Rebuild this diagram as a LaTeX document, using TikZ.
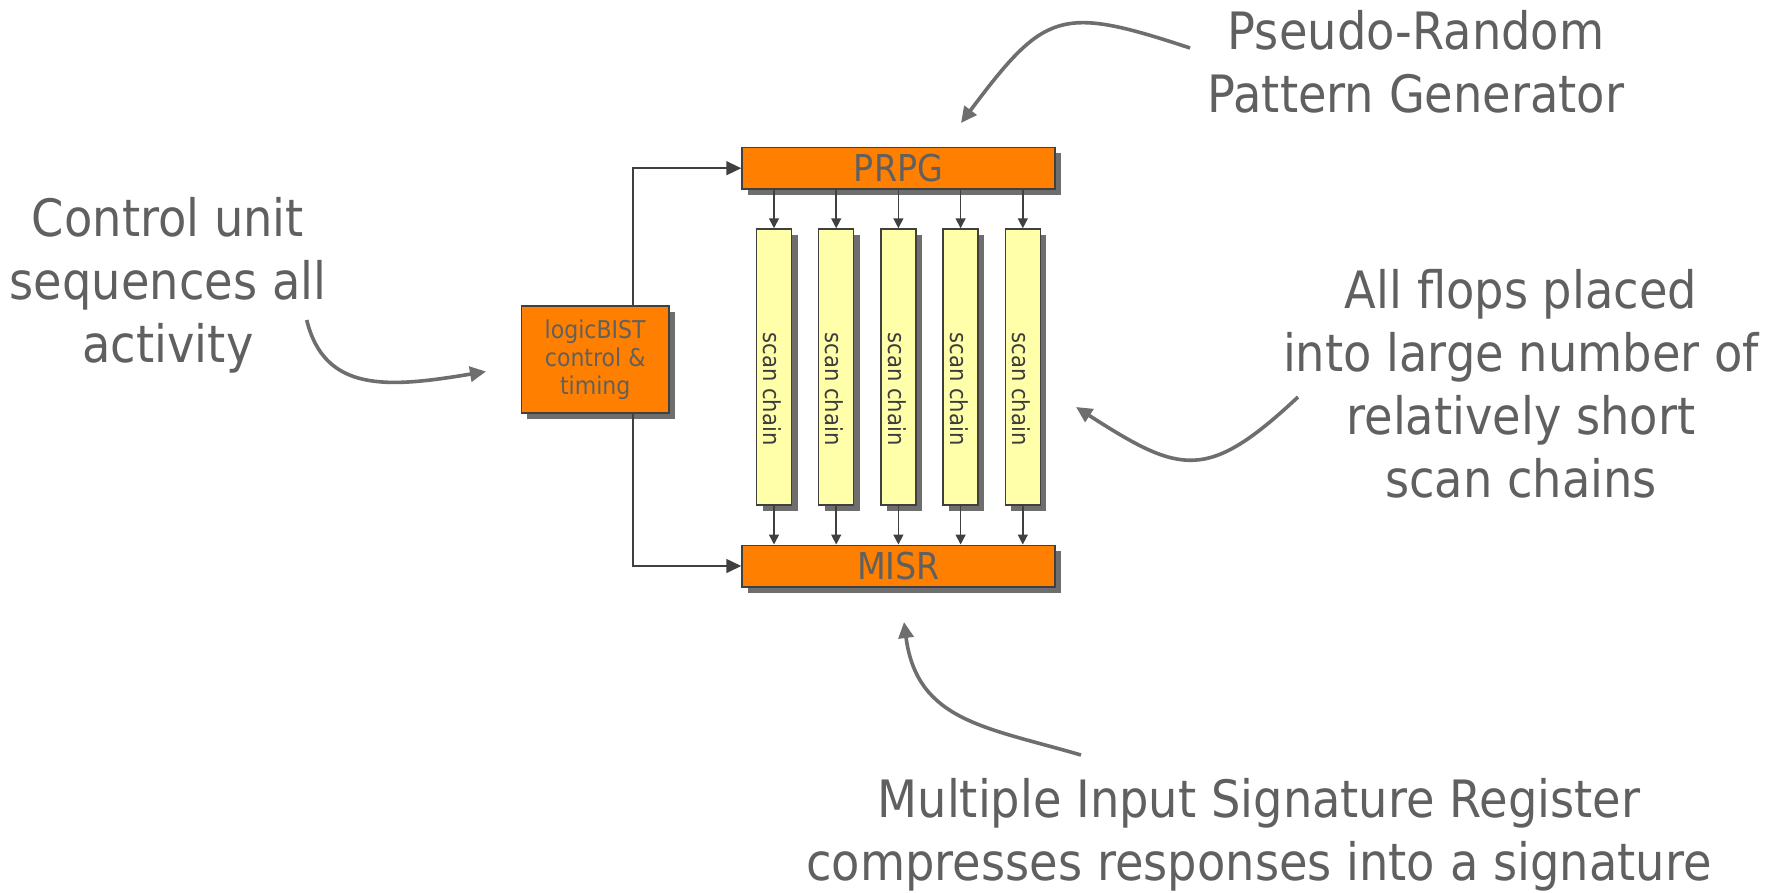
\documentclass[tikz,border=0pt]{standalone}
\usepackage{fontspec}
\setmainfont{DejaVu Sans}[FakeStretch=0.9]
\usetikzlibrary{arrows.meta,shadows,calc}

\definecolor{boxorange}{HTML}{FF7F00}
\definecolor{chainyellow}{HTML}{FFFFAA}
\definecolor{shadowgray}{HTML}{6E6E6E}
\definecolor{edgegray}{HTML}{404040}
\definecolor{textgray}{HTML}{606060}
\definecolor{chaingray}{HTML}{3C3C3C}
\definecolor{calloutgray}{HTML}{6E6E6E}

\begin{document}
\begin{tikzpicture}[x=1pt,y=-1pt,
  block/.style={draw=edgegray, line width=1.5pt, inner sep=0pt, text=textgray,
    drop shadow={shadow xshift=6pt, shadow yshift=-6pt, fill=shadowgray, opacity=1}},
  register/.style={block, fill=boxorange, minimum width=313pt, minimum height=41.5pt,
    font=\fontsize{37}{44}\selectfont},
  ctlbox/.style={block, fill=boxorange, minimum width=147.5pt, minimum height=107pt,
    align=center, font=\fontsize{24.5}{28}\selectfont},
  chainbox/.style={block, fill=chainyellow, minimum width=35pt, minimum height=276pt},
  chaintext/.style={text=chaingray, inner sep=0pt, rotate=-90, font=\fontsize{23.5}{27}\selectfont},
  conn/.style={draw=edgegray, line width=1.5pt, -{Triangle[length=10pt,width=10pt]}},
  feed/.style={draw=edgegray, line width=1.5pt, -{Triangle[length=15pt,width=14pt]}},
  callout/.style={draw=calloutgray, line width=3.6pt, -{Triangle[length=16pt,width=15pt]}},
  note/.style={text=textgray, align=center, inner sep=0pt, font=\fontsize{51.5}{63}\selectfont}
]
\fill[white] (0,0) rectangle (1779,892);
\useasboundingbox (0,0) rectangle (1779,892);

% registers, controller and scan chains
\node[register] (prpg) at (898.5,168.2) {PRPG};
\node[register] (misr) at (898.5,566) {MISR};
\node[ctlbox] (ctl) at (595.2,359.5) {logicBIST\\control \&\\timing};
\foreach \i/\x in {1/774,2/836.2,3/898.4,4/960.6,5/1022.8} {
  \node[chainbox] (c\i) at (\x,367) {};
  \node[chaintext] (t\i) at ($(c\i.center)+(-1.5,22)$) {scan chain};
  \draw[conn] (c\i.north |- prpg.south) -- (c\i.north);
  \draw[conn] (c\i.south) -- (c\i.south |- misr.north);
}
\draw[feed] ([xshift=37.6pt]ctl.north) |- (prpg.west);
\draw[feed] ([xshift=37.6pt]ctl.south) |- (misr.west);

% explanatory notes (anchored at the baseline of their last line)
\node[note, anchor=base] (ntop) at (1416,112) {Pseudo-Random\\Pattern Generator};
\node[note, anchor=base] (nleft) at (168,362) {Control unit\\sequences all\\activity};
\node[note, anchor=base] (nright) at (1521,497) {All flops placed\\into large number of\\relatively short\\scan chains};
\node[note, anchor=base] (nbot) at (1259,880) {Multiple Input Signature Register\\compresses responses into a signature};

% callout arrows
\coordinate (topS) at (1190,48);    \coordinate (topE) at (961,123);
\coordinate (rgtS) at (1298,397);   \coordinate (rgtE) at (1076,407);
\coordinate (botS) at (1081,755);   \coordinate (botE) at (904,622);
\coordinate (lftS) at (306.7,320);  \coordinate (lftE) at (486,371.5);
\draw[callout] (topS) .. controls (1060,5) and (1045,11) .. (topE);
\draw[callout] (rgtS) .. controls (1207,482) and (1181,474.5) .. (rgtE);
\draw[callout] (botS) .. controls (985,727) and (917,721) .. (botE);
\draw[callout] (lftS) .. controls (324.7,392.8) and (387.5,388) .. (lftE);
\end{tikzpicture}
\end{document}
